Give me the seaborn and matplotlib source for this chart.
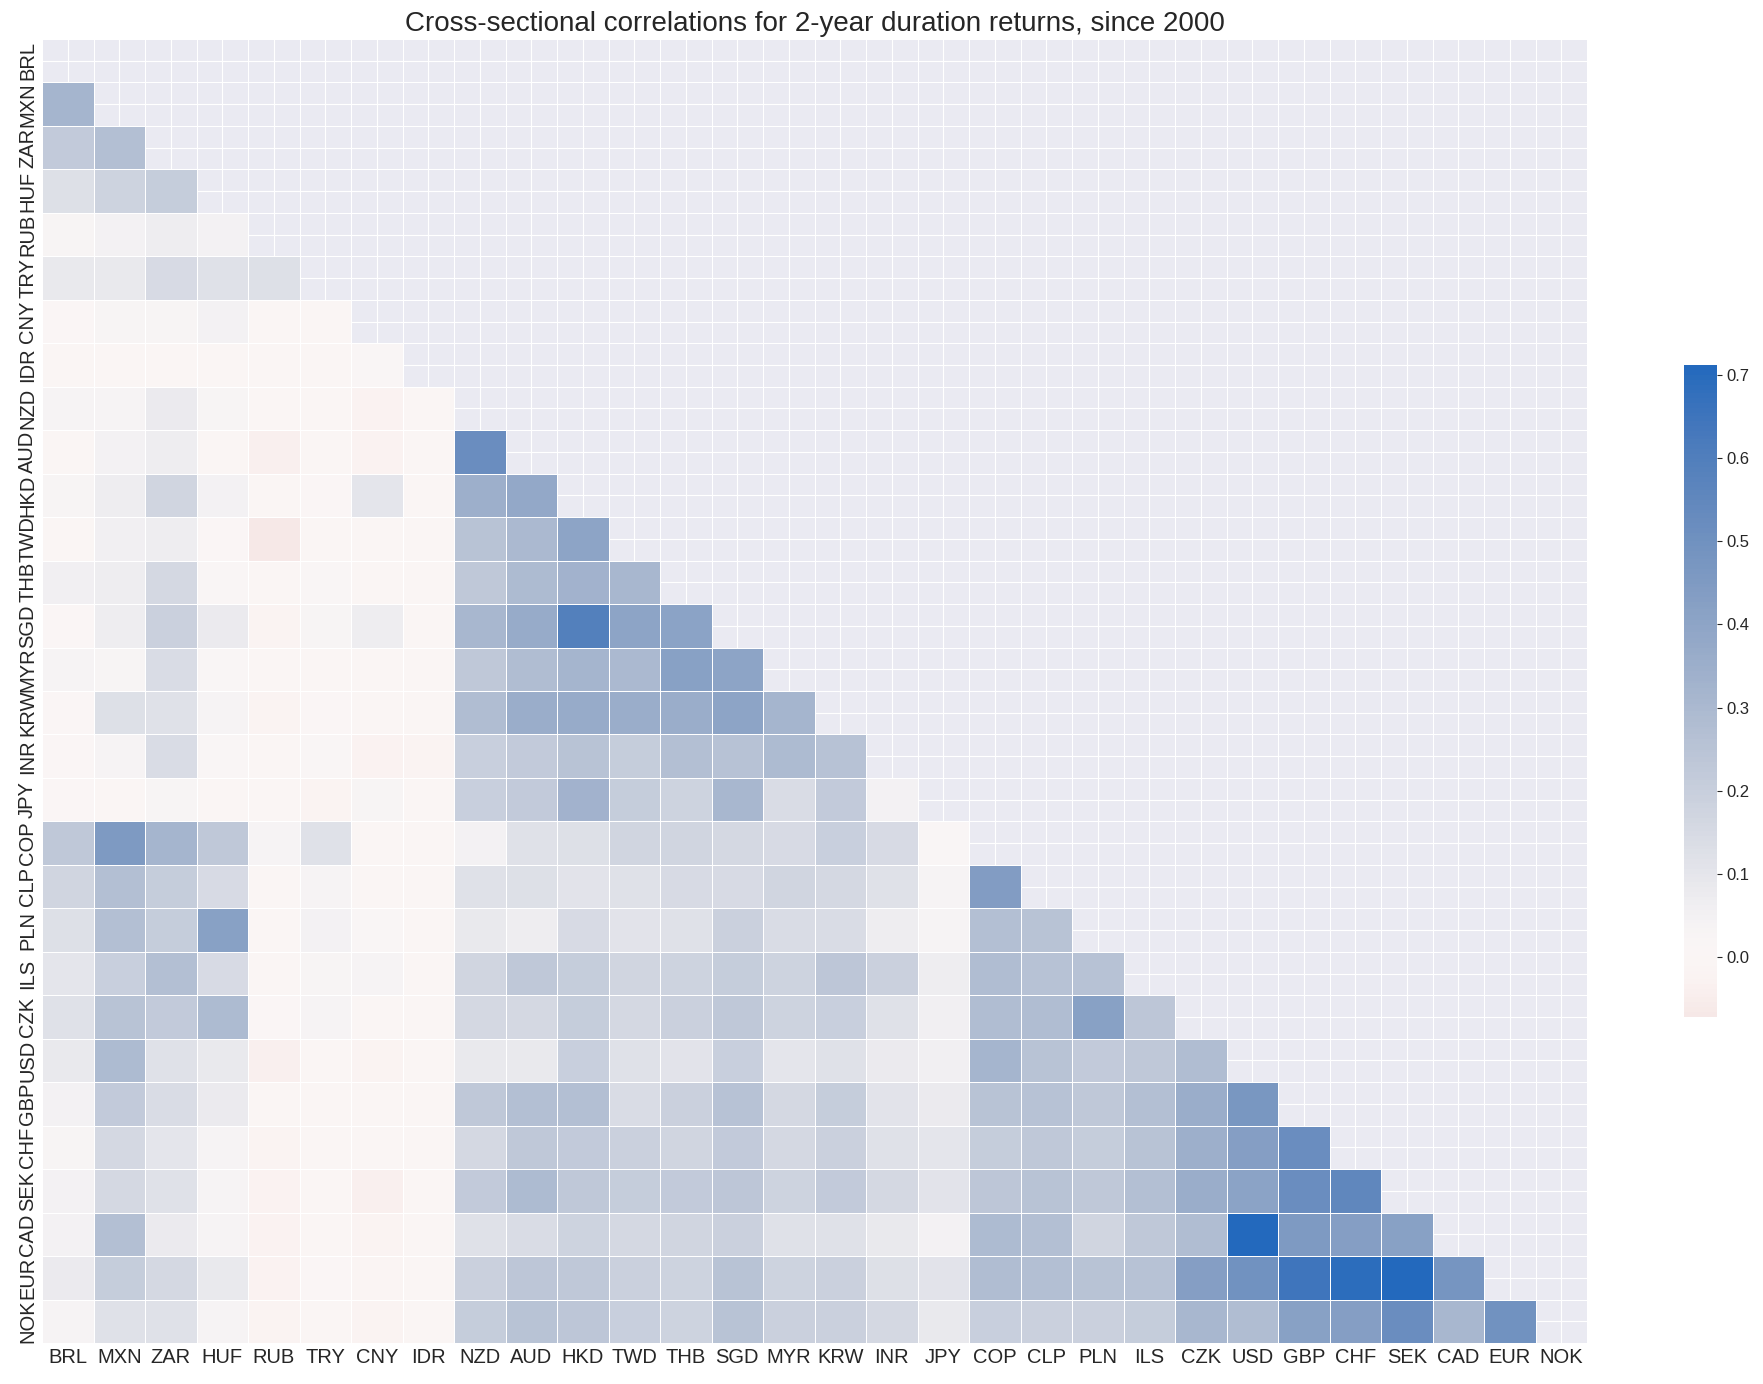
"""Lower-triangle correlation heatmap of 2-year duration returns."""

import numpy as np
import pandas as pd
import matplotlib

matplotlib.use("Agg")
import matplotlib.pyplot as plt
import seaborn as sns


# -----------------------------------------------------------#
#                          DATA                              #
# -----------------------------------------------------------#

currencies = [
    "BRL", "MXN", "ZAR", "HUF", "RUB", "TRY", "CNY", "IDR", "NZD", "AUD",
    "HKD", "TWD", "THB", "SGD", "MYR", "KRW", "INR", "JPY", "COP", "CLP",
    "PLN", "ILS", "CZK", "USD", "GBP", "CHF", "SEK", "CAD", "EUR", "NOK",
]

# each row: correlations with the currencies listed before it
corr_brl = []
corr_mxn = [0.32]
corr_zar = [0.22, 0.27]
corr_huf = [0.13, 0.18, 0.21]
corr_rub = [0.03, 0.05, 0.07, 0.05]
corr_try = [0.09, 0.09, 0.15, 0.12, 0.13]
corr_cny = [0.01, 0.03, 0.03, 0.05, 0.0, 0.0]
corr_idr = [0.0, -0.01, -0.01, -0.01, -0.01, -0.01, 0.02]
corr_nzd = [0.04, 0.04, 0.08, 0.03, -0.01, -0.005, -0.03, -0.01]
corr_aud = [-0.005, 0.05, 0.07, 0.0, -0.04, -0.01, -0.03, -0.01, 0.52]
corr_hkd = [0.03, 0.07, 0.17, 0.05, -0.005, 0.01, 0.10, -0.01, 0.35, 0.38]
corr_twd = [-0.01, 0.06, 0.07, 0.01, -0.072, 0.0, 0.0, -0.005, 0.25, 0.30,
            0.40]
corr_thb = [0.06, 0.07, 0.16, 0.02, -0.01, 0.02, -0.01, -0.005, 0.23, 0.29,
            0.33, 0.31]
corr_sgd = [0.01, 0.07, 0.19, 0.08, -0.02, 0.03, 0.07, -0.01, 0.31, 0.37,
            0.59, 0.40, 0.41]
corr_myr = [0.04, 0.03, 0.14, 0.02, -0.01, -0.005, -0.01, -0.01, 0.23, 0.28,
            0.32, 0.30, 0.42, 0.40]
corr_krw = [0.01, 0.13, 0.12, 0.04, -0.02, 0.01, 0.0, -0.005, 0.28, 0.36,
            0.37, 0.36, 0.36, 0.40, 0.32]
corr_inr = [0.01, 0.04, 0.14, 0.02, -0.005, 0.02, -0.03, -0.02, 0.20, 0.22,
            0.25, 0.21, 0.27, 0.26, 0.29, 0.26]
corr_jpy = [0.01, 0.0, 0.03, 0.0, -0.01, -0.02, 0.03, -0.005, 0.20, 0.22,
            0.33, 0.21, 0.18, 0.31, 0.14, 0.22, 0.05]
corr_cop = [0.23, 0.45, 0.32, 0.23, 0.04, 0.12, 0.0, -0.005, 0.05, 0.12,
            0.13, 0.17, 0.17, 0.16, 0.15, 0.20, 0.15, 0.02]
corr_clp = [0.17, 0.27, 0.21, 0.15, 0.0, 0.04, 0.0, -0.005, 0.12, 0.13,
            0.11, 0.12, 0.15, 0.15, 0.17, 0.16, 0.12, 0.04, 0.44]
corr_pln = [0.13, 0.27, 0.21, 0.42, 0.0, 0.05, 0.02, -0.005, 0.09, 0.07,
            0.15, 0.11, 0.12, 0.19, 0.14, 0.14, 0.07, 0.04, 0.27, 0.25]
corr_ils = [0.10, 0.20, 0.27, 0.15, 0.0, 0.03, 0.04, 0.0, 0.17, 0.23,
            0.21, 0.17, 0.18, 0.21, 0.18, 0.24, 0.19, 0.07, 0.28, 0.26,
            0.26]
corr_czk = [0.12, 0.25, 0.22, 0.29, 0.01, 0.04, 0.0, -0.005, 0.16, 0.16,
            0.21, 0.16, 0.19, 0.23, 0.18, 0.20, 0.12, 0.06, 0.28, 0.28,
            0.42, 0.24]
corr_usd = [0.09, 0.29, 0.12, 0.09, -0.04, -0.005, -0.02, -0.01, 0.09, 0.09,
            0.20, 0.12, 0.11, 0.20, 0.10, 0.12, 0.08, 0.06, 0.32, 0.25,
            0.22, 0.23, 0.28]
corr_gbp = [0.05, 0.22, 0.14, 0.08, 0.0, 0.0, -0.005, 0.0, 0.23, 0.27,
            0.27, 0.14, 0.19, 0.26, 0.16, 0.21, 0.11, 0.08, 0.25, 0.26,
            0.23, 0.27, 0.36, 0.47]
corr_chf = [0.03, 0.16, 0.10, 0.04, -0.02, -0.005, -0.01, -0.005, 0.16, 0.23,
            0.22, 0.19, 0.17, 0.22, 0.16, 0.19, 0.12, 0.10, 0.21, 0.23,
            0.21, 0.25, 0.35, 0.43, 0.52]
corr_sek = [0.05, 0.16, 0.12, 0.04, -0.03, -0.005, -0.04, -0.005, 0.22, 0.29,
            0.23, 0.21, 0.22, 0.24, 0.18, 0.22, 0.16, 0.11, 0.24, 0.25,
            0.23, 0.27, 0.36, 0.41, 0.52, 0.55]
corr_cad = [0.05, 0.27, 0.08, 0.04, -0.03, -0.005, -0.02, -0.01, 0.12, 0.14,
            0.18, 0.16, 0.17, 0.19, 0.12, 0.12, 0.09, 0.05, 0.29, 0.27,
            0.17, 0.23, 0.28, 0.71, 0.45, 0.43, 0.42]
corr_eur = [0.08, 0.21, 0.16, 0.09, -0.03, 0.005, -0.015, -0.005, 0.19, 0.24,
            0.23, 0.19, 0.18, 0.25, 0.18, 0.19, 0.13, 0.11, 0.28, 0.27,
            0.25, 0.26, 0.43, 0.50, 0.65, 0.69, 0.712, 0.48]
corr_nok = [0.04, 0.12, 0.12, 0.04, -0.025, -0.005, -0.02, -0.005, 0.21, 0.25,
            0.24, 0.20, 0.18, 0.25, 0.19, 0.19, 0.16, 0.09, 0.20, 0.19,
            0.19, 0.21, 0.31, 0.28, 0.42, 0.43, 0.52, 0.31, 0.50]

lower_rows = [
    corr_brl, corr_mxn, corr_zar, corr_huf, corr_rub, corr_try, corr_cny,
    corr_idr, corr_nzd, corr_aud, corr_hkd, corr_twd, corr_thb, corr_sgd,
    corr_myr, corr_krw, corr_inr, corr_jpy, corr_cop, corr_clp, corr_pln,
    corr_ils, corr_czk, corr_usd, corr_gbp, corr_chf, corr_sek, corr_cad,
    corr_eur, corr_nok,
]

# -----------------------------------------------------------#
#                      BUILD MATRIX                          #
# -----------------------------------------------------------#

n = len(currencies)
mat = np.eye(n)
for i, row in enumerate(lower_rows):
    assert len(row) == i, (currencies[i], len(row))
    for j, val in enumerate(row):
        mat[i, j] = val
        mat[j, i] = val

corr = pd.DataFrame(mat, index=currencies, columns=currencies)
mask = np.triu(np.ones_like(mat, dtype=bool))

# -----------------------------------------------------------#
#                          PLOT                              #
# -----------------------------------------------------------#

sns.set_style("darkgrid")
plt.rcParams["font.family"] = ["Liberation Sans", "DejaVu Sans"]

W, H = 1763, 1384
fig = plt.figure(figsize=(W / 100, H / 100), dpi=100)
ax = fig.add_axes([42 / W, 1 - 1343 / H, 1545 / W, 1304 / H])
cax = fig.add_axes([1684 / W, 1 - 1017 / H, 33 / W, 652 / H])

sns.heatmap(
    corr,
    mask=mask,
    cmap="vlag_r",
    center=0,
    linewidths=0.5,
    square=False,
    ax=ax,
    cbar_ax=cax,
)

ax.set_title(
    "Cross-sectional correlations for 2-year duration returns, since 2000",
    fontsize=20,
)
ax.set_xlabel("")
ax.set_ylabel("")
ax.tick_params(axis="both", labelsize=14.5, length=0)
ax.set_xticklabels(currencies, rotation=0)
ax.set_yticklabels(currencies, rotation=90, va="center")
cax.tick_params(labelsize=12)

fig.savefig("out.png", dpi=100)
